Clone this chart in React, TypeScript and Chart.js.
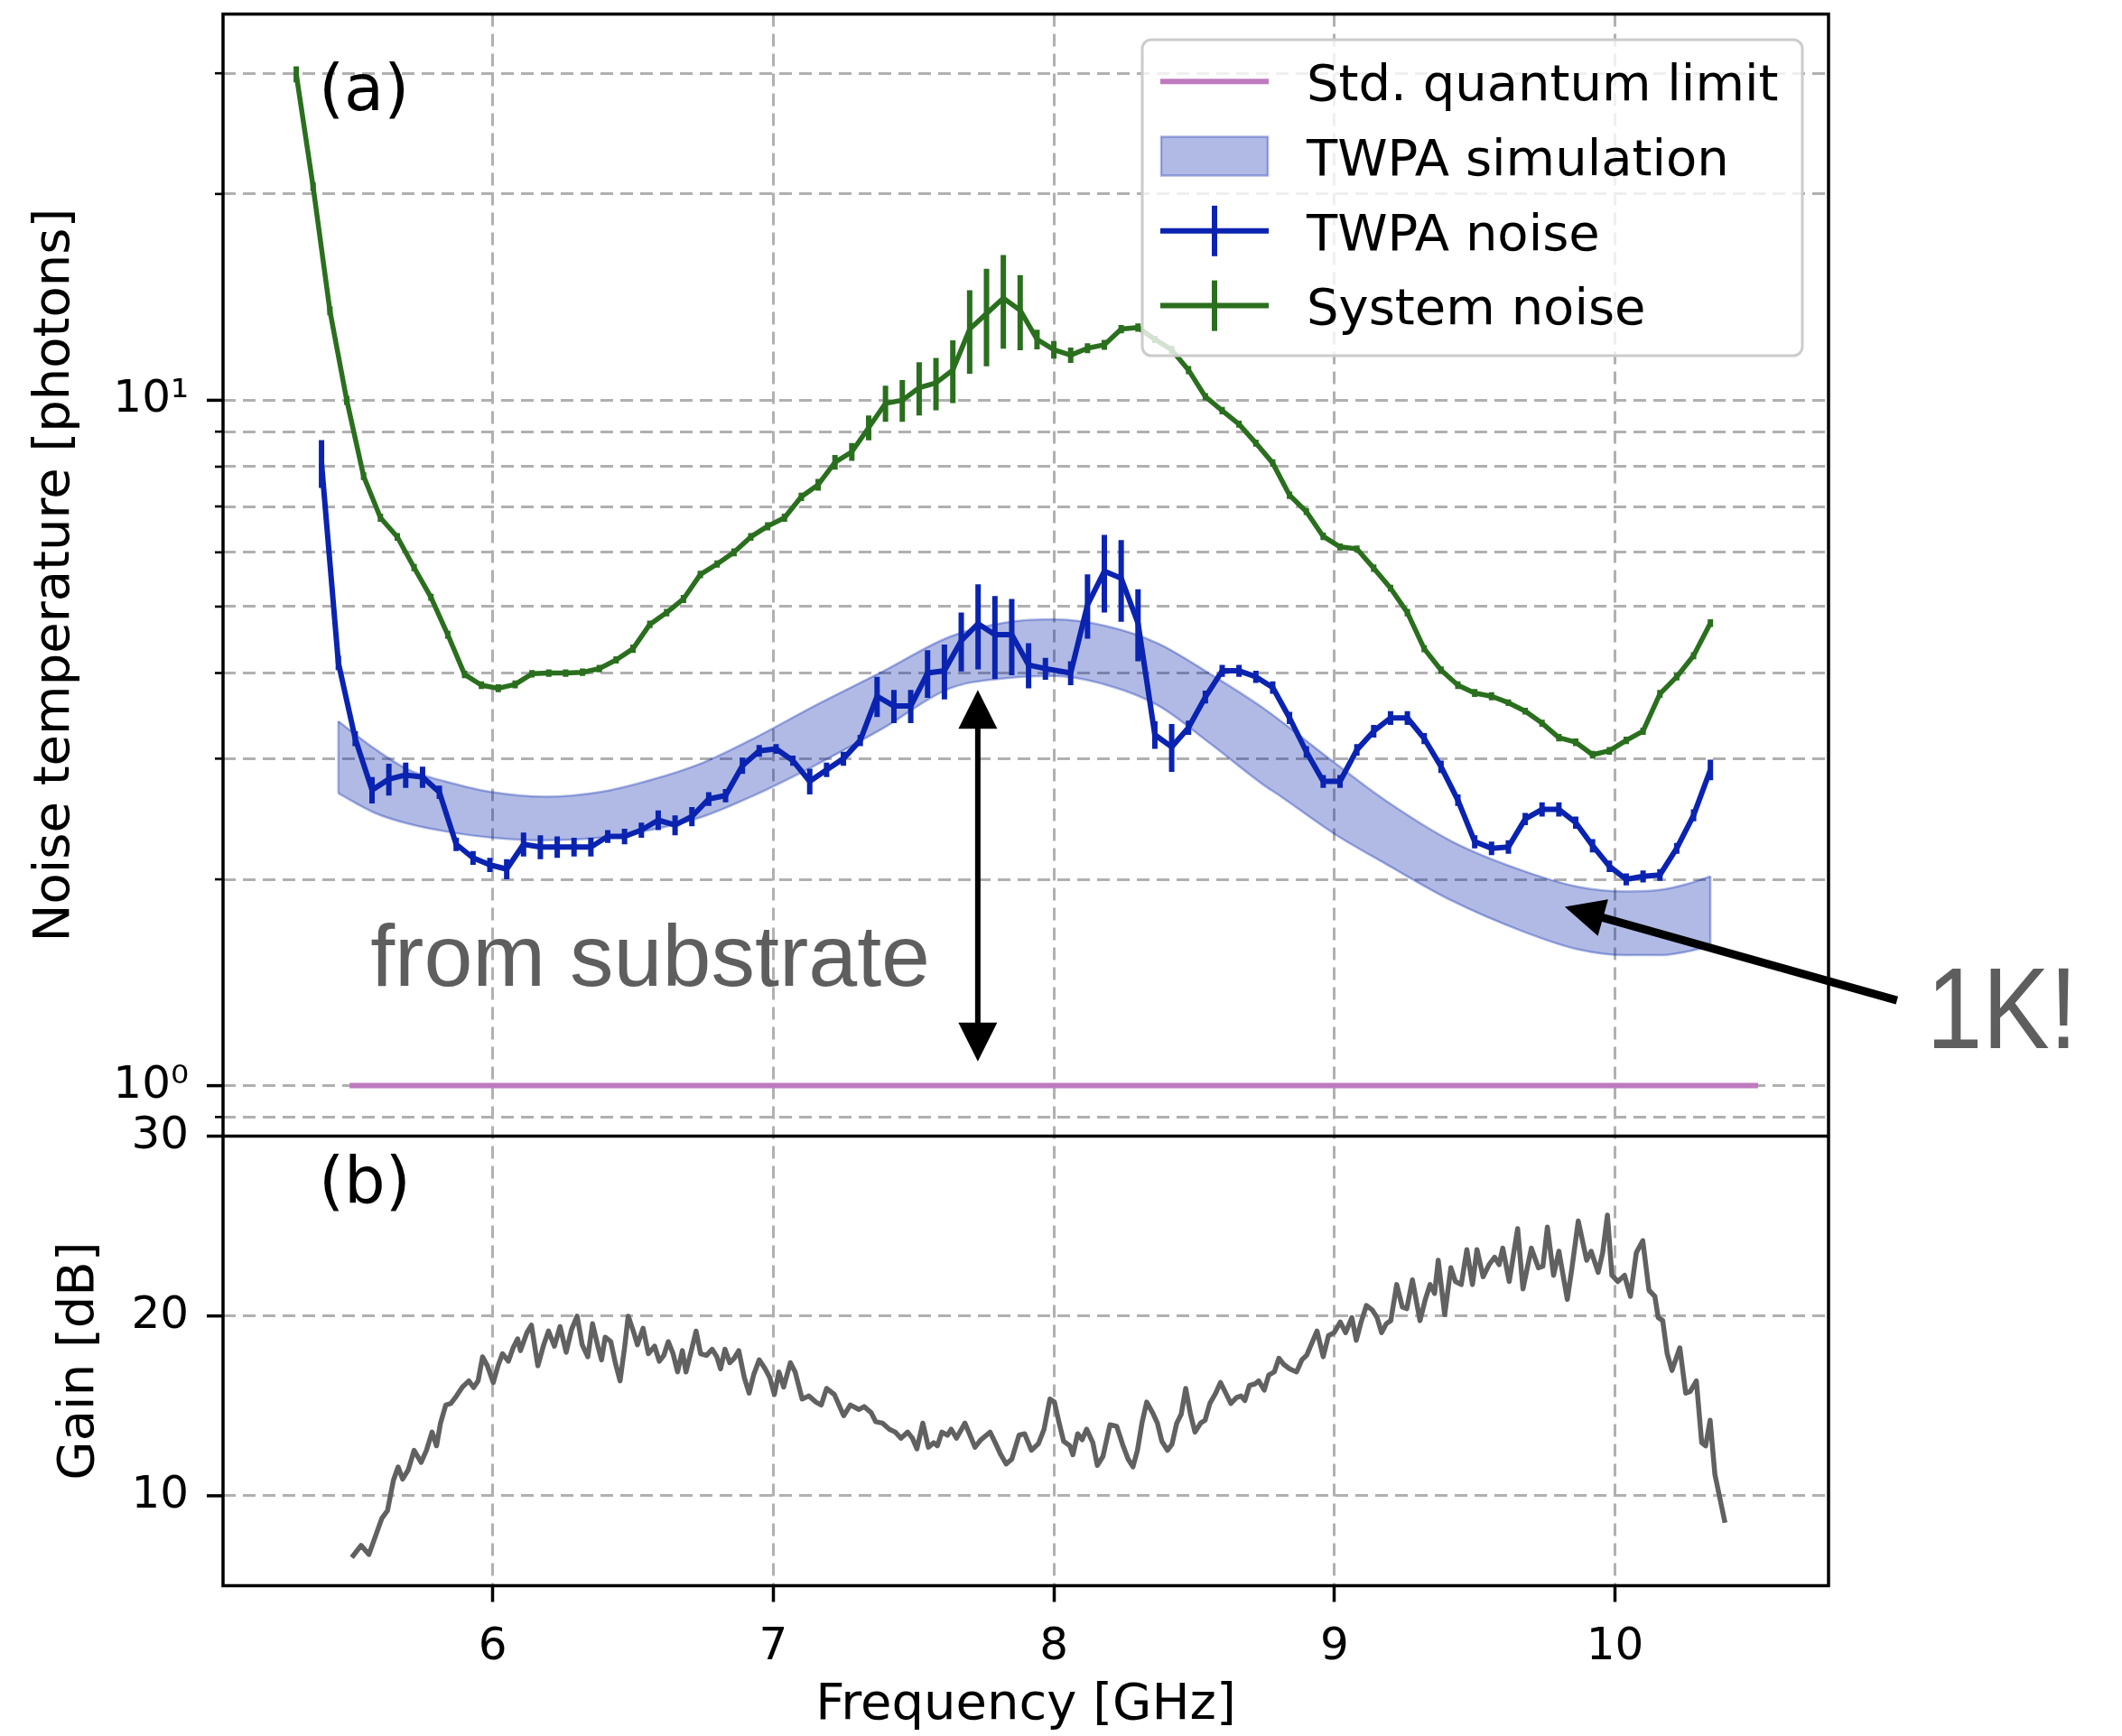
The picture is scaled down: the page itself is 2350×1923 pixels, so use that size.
import React, { useEffect, useRef } from "react";
import { Chart, registerables } from "chart.js";

Chart.register(...registerables);

// ---------------- data ----------------
const freqMin = 5.039;
const freqMax = 10.761;
const freqTicks = [6, 7, 8, 9, 10];

const noiseMin = 0.844;
const noiseMax = 36.6;
const noiseTicks = [0.9, 1, 2, 3, 4, 5, 6, 7, 8, 9, 10, 20, 30];
const noiseMajorTicks = [1, 10];
const noiseTickLabels: Record<string, string> = { "1": "10\u2070", "10": "10\u00b9" };

const gainMin = 5;
const gainMax = 30;
const gainTicks = [10, 20, 30];

const sqlFreq = [5.49, 10.51];
const sqlLevel = [1, 1];

const simFreq = [5.45, 5.58, 5.7, 5.83, 6.0, 6.19, 6.38, 6.56, 6.75, 6.93, 7.14, 7.39, 7.63, 7.83, 8.0, 8.19, 8.37, 8.56, 8.74, 8.81, 9.0, 9.18, 9.42, 9.67, 9.87, 10.04, 10.16, 10.26, 10.34];
const simUpper = [3.4, 3.1, 2.89, 2.78, 2.68, 2.64, 2.68, 2.79, 2.96, 3.21, 3.57, 4.02, 4.52, 4.74, 4.79, 4.68, 4.42, 3.98, 3.57, 3.4, 2.96, 2.61, 2.27, 2.06, 1.95, 1.92, 1.93, 1.97, 2.02];
const simLower = [2.67, 2.5, 2.41, 2.35, 2.3, 2.28, 2.3, 2.36, 2.47, 2.65, 2.92, 3.32, 3.8, 3.93, 3.96, 3.84, 3.59, 3.15, 2.76, 2.64, 2.33, 2.11, 1.86, 1.68, 1.58, 1.55, 1.55, 1.57, 1.6];

const twpaFreq = [5.39, 5.45, 5.51, 5.57, 5.63, 5.69, 5.75, 5.81, 5.87, 5.93, 5.99, 6.05, 6.11, 6.17, 6.23, 6.29, 6.35, 6.41, 6.47, 6.53, 6.59, 6.65, 6.71, 6.77, 6.83, 6.89, 6.95, 7.01, 7.07, 7.13, 7.19, 7.25, 7.31, 7.37, 7.43, 7.49, 7.55, 7.61, 7.67, 7.73, 7.79, 7.85, 7.91, 7.97, 8.06, 8.12, 8.18, 8.24, 8.3, 8.36, 8.42, 8.48, 8.54, 8.6, 8.66, 8.72, 8.78, 8.84, 8.9, 8.96, 9.02, 9.08, 9.14, 9.2, 9.26, 9.32, 9.38, 9.44, 9.5, 9.56, 9.62, 9.68, 9.74, 9.8, 9.86, 9.92, 9.98, 10.04, 10.1, 10.16, 10.22, 10.28, 10.34];
const twpaNoise = [8.1, 4.14, 3.21, 2.7, 2.8, 2.84, 2.82, 2.68, 2.25, 2.15, 2.1, 2.07, 2.25, 2.23, 2.23, 2.23, 2.23, 2.31, 2.31, 2.36, 2.44, 2.4, 2.47, 2.62, 2.65, 2.93, 3.08, 3.1, 2.98, 2.78, 2.89, 3.0, 3.19, 3.7, 3.58, 3.58, 4.0, 4.03, 4.46, 4.72, 4.55, 4.55, 4.11, 4.06, 4.0, 5.03, 5.63, 5.5, 4.73, 3.25, 3.12, 3.33, 3.69, 4.03, 4.03, 3.95, 3.81, 3.44, 3.07, 2.78, 2.78, 3.09, 3.29, 3.44, 3.44, 3.21, 2.92, 2.61, 2.27, 2.22, 2.23, 2.45, 2.53, 2.53, 2.42, 2.24, 2.09, 2.0, 2.02, 2.03, 2.22, 2.48, 2.89];
const twpaErr = [0.65, 0.1, 0.08, 0.12, 0.15, 0.12, 0.1, 0.06, 0.05, 0.05, 0.05, 0.07, 0.09, 0.09, 0.08, 0.07, 0.07, 0.05, 0.06, 0.06, 0.08, 0.08, 0.08, 0.06, 0.06, 0.08, 0.06, 0.05, 0.05, 0.12, 0.07, 0.07, 0.06, 0.25, 0.2, 0.2, 0.32, 0.37, 0.44, 0.67, 0.63, 0.58, 0.31, 0.15, 0.16, 0.54, 0.73, 0.75, 0.57, 0.15, 0.25, 0.08, 0.08, 0.08, 0.08, 0.08, 0.08, 0.07, 0.06, 0.06, 0.06, 0.06, 0.07, 0.08, 0.08, 0.06, 0.06, 0.05, 0.05, 0.05, 0.05, 0.05, 0.06, 0.06, 0.05, 0.05, 0.04, 0.04, 0.04, 0.04, 0.04, 0.05, 0.1];

const sysFreq = [5.3, 5.36, 5.42, 5.48, 5.54, 5.6, 5.66, 5.72, 5.78, 5.84, 5.9, 5.96, 6.02, 6.08, 6.14, 6.2, 6.26, 6.32, 6.38, 6.44, 6.5, 6.56, 6.62, 6.68, 6.74, 6.8, 6.86, 6.92, 6.98, 7.04, 7.1, 7.16, 7.22, 7.28, 7.34, 7.4, 7.46, 7.52, 7.58, 7.64, 7.7, 7.76, 7.82, 7.88, 7.94, 8.0, 8.06, 8.12, 8.18, 8.24, 8.3, 8.36, 8.42, 8.48, 8.54, 8.6, 8.66, 8.72, 8.78, 8.84, 8.9, 8.96, 9.02, 9.08, 9.14, 9.2, 9.26, 9.32, 9.38, 9.44, 9.5, 9.56, 9.62, 9.68, 9.74, 9.8, 9.86, 9.92, 9.98, 10.04, 10.1, 10.16, 10.22, 10.28, 10.34];
const sysNoise = [29.9, 20.5, 13.5, 10.0, 7.75, 6.74, 6.32, 5.7, 5.16, 4.55, 3.98, 3.84, 3.8, 3.85, 3.99, 4.0, 4.0, 4.01, 4.06, 4.18, 4.34, 4.71, 4.9, 5.13, 5.57, 5.77, 6.0, 6.32, 6.55, 6.74, 7.23, 7.53, 8.12, 8.41, 9.12, 9.9, 10.0, 10.43, 10.6, 11.07, 12.7, 13.38, 14.09, 13.53, 12.27, 11.85, 11.64, 11.91, 12.05, 12.7, 12.77, 12.27, 11.85, 11.07, 10.12, 9.66, 9.23, 8.66, 8.1, 7.27, 6.88, 6.33, 6.11, 6.07, 5.69, 5.32, 4.9, 4.34, 4.04, 3.84, 3.74, 3.7, 3.62, 3.52, 3.38, 3.22, 3.17, 3.04, 3.08, 3.19, 3.29, 3.73, 3.95, 4.24, 4.73];
const sysErr = [0.8, 0.3, 0.2, 0.15, 0.1, 0.09, 0.08, 0.07, 0.06, 0.06, 0.05, 0.05, 0.05, 0.05, 0.05, 0.05, 0.05, 0.05, 0.05, 0.05, 0.06, 0.06, 0.06, 0.07, 0.07, 0.07, 0.08, 0.08, 0.09, 0.09, 0.1, 0.15, 0.2, 0.25, 0.38, 0.6, 0.7, 0.93, 0.93, 1.16, 1.77, 2.17, 2.2, 1.7, 0.4, 0.35, 0.3, 0.2, 0.2, 0.18, 0.18, 0.15, 0.15, 0.15, 0.12, 0.12, 0.11, 0.1, 0.1, 0.09, 0.08, 0.08, 0.07, 0.07, 0.07, 0.06, 0.06, 0.05, 0.05, 0.05, 0.05, 0.05, 0.04, 0.04, 0.04, 0.04, 0.04, 0.04, 0.04, 0.04, 0.04, 0.05, 0.05, 0.05, 0.06];

const gainFreq = [5.498, 5.531, 5.559, 5.584, 5.605, 5.625, 5.646, 5.663, 5.679, 5.699, 5.72, 5.745, 5.764, 5.784, 5.8, 5.814, 5.833, 5.851, 5.871, 5.892, 5.915, 5.932, 5.948, 5.964, 5.981, 6.002, 6.019, 6.035, 6.056, 6.073, 6.089, 6.099, 6.122, 6.138, 6.161, 6.182, 6.199, 6.22, 6.24, 6.262, 6.281, 6.301, 6.319, 6.339, 6.356, 6.375, 6.388, 6.401, 6.421, 6.437, 6.454, 6.47, 6.483, 6.503, 6.516, 6.536, 6.555, 6.577, 6.594, 6.61, 6.626, 6.643, 6.659, 6.676, 6.689, 6.708, 6.725, 6.741, 6.762, 6.782, 6.799, 6.812, 6.828, 6.845, 6.861, 6.877, 6.897, 6.914, 6.93, 6.95, 6.971, 6.988, 7.004, 7.02, 7.037, 7.061, 7.078, 7.103, 7.127, 7.152, 7.171, 7.19, 7.218, 7.251, 7.275, 7.305, 7.324, 7.349, 7.365, 7.389, 7.414, 7.435, 7.455, 7.479, 7.496, 7.512, 7.533, 7.553, 7.572, 7.585, 7.601, 7.621, 7.634, 7.653, 7.683, 7.699, 7.719, 7.74, 7.773, 7.794, 7.811, 7.83, 7.85, 7.876, 7.896, 7.92, 7.945, 7.965, 7.986, 8.002, 8.019, 8.035, 8.057, 8.068, 8.085, 8.101, 8.117, 8.139, 8.155, 8.175, 8.2, 8.224, 8.245, 8.265, 8.282, 8.298, 8.314, 8.331, 8.352, 8.369, 8.385, 8.405, 8.421, 8.438, 8.454, 8.47, 8.487, 8.503, 8.523, 8.539, 8.556, 8.577, 8.594, 8.61, 8.631, 8.651, 8.667, 8.681, 8.697, 8.717, 8.73, 8.75, 8.766, 8.786, 8.802, 8.819, 8.84, 8.865, 8.884, 8.901, 8.917, 8.938, 8.96, 8.979, 8.999, 9.021, 9.04, 9.062, 9.078, 9.095, 9.114, 9.135, 9.152, 9.168, 9.185, 9.201, 9.222, 9.242, 9.258, 9.278, 9.305, 9.324, 9.341, 9.357, 9.37, 9.393, 9.415, 9.431, 9.452, 9.472, 9.492, 9.508, 9.53, 9.551, 9.571, 9.587, 9.6, 9.623, 9.653, 9.672, 9.702, 9.727, 9.743, 9.759, 9.781, 9.8, 9.83, 9.846, 9.869, 9.899, 9.915, 9.94, 9.956, 9.973, 9.989, 10.01, 10.034, 10.055, 10.076, 10.099, 10.121, 10.142, 10.154, 10.17, 10.186, 10.203, 10.231, 10.252, 10.268, 10.29, 10.309, 10.323, 10.339, 10.356, 10.392];
const gainDb = [6.57, 7.24, 6.74, 7.83, 8.75, 9.17, 10.85, 11.6, 10.93, 11.44, 12.53, 11.86, 12.53, 13.54, 12.78, 14.04, 15.05, 15.13, 15.55, 16.05, 16.39, 16.02, 16.39, 17.73, 17.23, 16.3, 17.23, 17.9, 17.48, 18.23, 18.73, 18.07, 19.07, 19.49, 17.23, 18.4, 19.16, 18.32, 19.41, 17.98, 19.24, 19.99, 18.4, 17.73, 19.57, 18.32, 17.56, 18.82, 18.57, 17.4, 16.39, 18.23, 19.99, 19.07, 18.4, 19.32, 17.9, 18.32, 17.48, 17.81, 18.57, 17.9, 16.89, 18.07, 16.89, 18.07, 19.16, 17.9, 17.81, 18.15, 17.73, 17.06, 18.15, 17.4, 17.65, 18.07, 16.56, 15.71, 16.72, 17.56, 17.06, 16.56, 15.63, 16.89, 16.05, 17.4, 16.89, 15.38, 15.55, 15.21, 15.05, 15.97, 15.63, 14.45, 15.05, 14.8, 14.96, 14.62, 14.12, 14.04, 13.7, 13.54, 13.2, 13.54, 13.2, 12.61, 14.04, 12.7, 12.95, 12.78, 13.54, 13.37, 13.7, 13.2, 14.04, 13.45, 12.7, 13.12, 13.54, 12.86, 12.28, 11.77, 12.03, 13.37, 13.45, 12.53, 12.9, 13.7, 15.38, 15.21, 14.04, 13.03, 12.78, 12.28, 13.45, 13.12, 13.7, 12.95, 11.69, 12.19, 13.95, 13.87, 12.86, 12.03, 11.61, 12.53, 14.04, 15.21, 14.62, 14.04, 13.03, 12.53, 12.86, 14.04, 14.54, 15.97, 14.54, 13.54, 14.04, 14.2, 15.13, 15.71, 16.3, 15.8, 15.13, 15.46, 15.55, 15.3, 16.14, 16.22, 16.39, 15.88, 16.72, 16.89, 17.65, 17.31, 17.06, 16.89, 17.56, 17.81, 18.4, 19.16, 17.73, 18.91, 19.07, 19.66, 19.07, 19.91, 18.65, 19.66, 20.58, 20.33, 19.91, 19.07, 19.57, 19.74, 21.75, 20.5, 20.41, 22.01, 19.74, 20.92, 21.75, 21.25, 23.1, 20.07, 22.68, 21.92, 21.75, 23.69, 21.75, 23.69, 22.18, 22.85, 23.27, 22.85, 23.77, 21.92, 24.86, 21.51, 23.77, 22.68, 22.76, 24.94, 22.26, 23.6, 20.92, 22.6, 25.28, 23.1, 23.6, 22.43, 23.52, 25.61, 22.26, 21.92, 22.26, 21.09, 23.52, 24.19, 21.43, 21.09, 19.91, 19.74, 17.9, 16.97, 18.23, 15.71, 15.8, 16.39, 12.95, 12.78, 14.2, 11.19, 8.5];

// ---------------- style / layout ----------------
const W = 2350;
const H = 1923;
const PAD_TOP = 15.6;
const PAD_RIGHT = 325;
const Y_AXIS_W = 247;
const X_AXIS_H = 166.5;
const NOISE_WEIGHT = 1243;
const GAIN_WEIGHT = 498;

const BLUE = "#0a23b0";
const GREEN = "#2a6f1e";
const SQL_COLOR = "#bf7abf";
const GAIN_COLOR = "#616161";
const BAND_FILL = "rgba(0,32,170,0.31)";
const BAND_EDGE = "rgba(0,32,170,0.33)";
const GRID = "#b0b0b0";
const ANNOT = "#5e5e5e";
const FONT = "'DejaVu Sans', sans-serif";
const ANNOT_FONT = "'Liberation Sans', Arial, sans-serif";

const pts = (xs: number[], ys: number[]) => xs.map((x, i) => ({ x, y: ys[i] }));

const errorBarPlugin = {
  id: "errorBars",
  afterDatasetDraw(chart: any, args: any) {
    const ds = chart.data.datasets[args.index];
    if (!ds.errors) return;
    const xs = chart.scales.x;
    const ys = chart.scales[ds.yAxisID];
    const a = chart.chartArea;
    const ctx = chart.ctx;
    ctx.save();
    ctx.beginPath();
    ctx.rect(a.left, a.top, a.right - a.left, a.bottom - a.top);
    ctx.clip();
    ctx.strokeStyle = ds.borderColor;
    ctx.lineWidth = ds.errorWidth;
    ctx.lineCap = "butt";
    ds.data.forEach((p: any, i: number) => {
      const e = ds.errors[i];
      const x = xs.getPixelForValue(p.x);
      ctx.beginPath();
      ctx.moveTo(x, ys.getPixelForValue(p.y - e));
      ctx.lineTo(x, ys.getPixelForValue(p.y + e));
      ctx.stroke();
    });
    ctx.restore();
  },
};

const framePlugin = {
  id: "frame",
  afterDatasetsDraw(chart: any) {
    const ctx = chart.ctx;
    const a = chart.chartArea;
    const yn = chart.scales.yNoise;
    const yg = chart.scales.yGain;
    ctx.save();
    ctx.strokeStyle = "#000";
    ctx.lineWidth = 3.5;
    ctx.strokeRect(a.left, a.top, a.right - a.left, a.bottom - a.top);
    ctx.beginPath();
    ctx.moveTo(a.left, yn.bottom);
    ctx.lineTo(a.right, yn.bottom);
    ctx.stroke();
    // y tick marks (major long, minor short)
    ctx.lineCap = "butt";
    noiseTicks.forEach((v) => {
      const major = noiseMajorTicks.includes(v);
      const y = yn.getPixelForValue(v);
      ctx.lineWidth = major ? 3.5 : 2.6;
      ctx.beginPath();
      ctx.moveTo(a.left - (major ? 18 : 9), y);
      ctx.lineTo(a.left, y);
      ctx.stroke();
    });
    gainTicks.forEach((v) => {
      const y = yg.getPixelForValue(v);
      ctx.lineWidth = 3.5;
      ctx.beginPath();
      ctx.moveTo(a.left - 18, y);
      ctx.lineTo(a.left, y);
      ctx.stroke();
    });
    ctx.restore();
  },
};

function arrowHead(ctx: any, tx: number, ty: number, fx: number, fy: number, len: number, width: number) {
  const ang = Math.atan2(ty - fy, tx - fx);
  const bx = tx - len * Math.cos(ang);
  const by = ty - len * Math.sin(ang);
  const px = (width / 2) * Math.sin(ang);
  const py = (width / 2) * Math.cos(ang);
  ctx.beginPath();
  ctx.moveTo(tx, ty);
  ctx.lineTo(bx + px, by - py);
  ctx.lineTo(bx - px, by + py);
  ctx.closePath();
  ctx.fill();
}

const legendPlugin = {
  id: "mplLegend",
  afterDraw(chart: any) {
    const ctx = chart.ctx;
    const a = chart.chartArea;
    const w = 731;
    const h = 350;
    const left = a.right - 29 - w;
    const top = a.top + 28.4;
    ctx.save();
    ctx.beginPath();
    (ctx as any).roundRect(left, top, w, h, 10);
    ctx.fillStyle = "rgba(255,255,255,0.8)";
    ctx.fill();
    ctx.strokeStyle = "#cccccc";
    ctx.lineWidth = 3;
    ctx.stroke();
    const entries = chart.data.datasets.filter((d: any) => d.legendKind);
    entries.sort((p: any, q: any) => p.legendRank - q.legendRank);
    entries.forEach((d: any, i: number) => {
      const cy = top + 46.2 + i * 82.8;
      const x0 = left + 20;
      const x1 = left + 140;
      if (d.legendKind === "line" || d.legendKind === "errorbar") {
        ctx.strokeStyle = d.borderColor;
        ctx.lineWidth = 6;
        ctx.beginPath();
        ctx.moveTo(x0, cy);
        ctx.lineTo(x1, cy);
        ctx.stroke();
        if (d.legendKind === "errorbar") {
          ctx.lineWidth = 6;
          ctx.beginPath();
          ctx.moveTo((x0 + x1) / 2, cy - 28);
          ctx.lineTo((x0 + x1) / 2, cy + 28);
          ctx.stroke();
        }
      } else if (d.legendKind === "patch") {
        ctx.fillStyle = d.backgroundColor;
        ctx.fillRect(x0 + 1, cy - 21.5, x1 - x0 - 2, 43);
        ctx.strokeStyle = d.borderColor;
        ctx.lineWidth = 2.5;
        ctx.strokeRect(x0 + 1, cy - 21.5, x1 - x0 - 2, 43);
      }
      ctx.fillStyle = "#000";
      ctx.font = `56px ${FONT}`;
      ctx.textBaseline = "alphabetic";
      ctx.textAlign = "left";
      ctx.fillText(d.label, left + 182, cy + 20.8);
    });
    ctx.restore();
  },
};

const annotationPlugin = {
  id: "annotations",
  afterDraw(chart: any) {
    const ctx = chart.ctx;
    const a = chart.chartArea;
    const xs = chart.scales.x;
    const yn = chart.scales.yNoise;
    ctx.save();
    // panel labels
    ctx.fillStyle = "#000";
    ctx.font = `72px ${FONT}`;
    ctx.textAlign = "left";
    ctx.textBaseline = "alphabetic";
    ctx.fillText("(a)", a.left + 106, a.top + 106);
    ctx.fillText("(b)", a.left + 106, yn.bottom + 73);

    // "from substrate" + double arrow
    ctx.fillStyle = ANNOT;
    ctx.font = `97px ${ANNOT_FONT}`;
    ctx.fillText("from substrate", xs.getPixelForValue(5.564), yn.getPixelForValue(1.398));
    const ax = xs.getPixelForValue(7.729);
    const yTop = yn.getPixelForValue(3.78);
    const yBot = yn.getPixelForValue(1.085);
    ctx.strokeStyle = "#000";
    ctx.fillStyle = "#000";
    ctx.lineWidth = 6;
    ctx.beginPath();
    ctx.moveTo(ax, yTop + 30);
    ctx.lineTo(ax, yBot - 30);
    ctx.stroke();
    arrowHead(ctx, ax, yTop, ax, yBot, 43, 43);
    arrowHead(ctx, ax, yBot, ax, yTop, 43, 43);

    // "1K!" + arrow
    const tx = xs.getPixelForValue(11.005);
    const ty = yn.getPixelForValue(1.332);
    const hx = xs.getPixelForValue(9.821);
    const hy = yn.getPixelForValue(1.823);
    const ang = Math.atan2(hy - ty, hx - tx);
    ctx.lineWidth = 9;
    ctx.beginPath();
    ctx.moveTo(tx, ty);
    ctx.lineTo(hx - 35 * Math.cos(ang), hy - 35 * Math.sin(ang));
    ctx.stroke();
    arrowHead(ctx, hx, hy, tx, ty, 44, 42);
    ctx.fillStyle = ANNOT;
    ctx.font = `128px ${ANNOT_FONT}`;
    const kx = xs.getPixelForValue(11.11);
    const ky = yn.getPixelForValue(1.134);
    ctx.translate(kx, ky);
    ctx.scale(0.87, 1);
    ctx.fillText("1K!", 0, 0);
    ctx.restore();
  },
};

export default function App() {
  const ref = useRef<HTMLCanvasElement>(null);
  useEffect(() => {
    const canvas = ref.current as HTMLCanvasElement;
    const tickFont = { family: FONT, size: 50, lineHeight: 1 };
    const titleFont = { family: FONT, size: 56, lineHeight: 1 };
    const chart = new Chart(canvas, {
      type: "line",
      data: {
        datasets: [
          {
            label: "System noise",
            data: pts(sysFreq, sysNoise),
            errors: sysErr,
            errorWidth: 6,
            yAxisID: "yNoise",
            borderColor: GREEN,
            borderWidth: 5.5,
            order: 1,
            legendKind: "errorbar",
            legendRank: 4,
          },
          {
            label: "TWPA noise",
            data: pts(twpaFreq, twpaNoise),
            errors: twpaErr,
            errorWidth: 6,
            yAxisID: "yNoise",
            borderColor: BLUE,
            borderWidth: 6,
            order: 2,
            legendKind: "errorbar",
            legendRank: 3,
          },
          {
            label: "Std. quantum limit",
            data: pts(sqlFreq, sqlLevel),
            yAxisID: "yNoise",
            borderColor: SQL_COLOR,
            borderWidth: 6,
            borderCapStyle: "butt",
            order: 5,
            legendKind: "line",
            legendRank: 1,
          },
          {
            label: "TWPA simulation",
            data: pts(simFreq, simUpper),
            yAxisID: "yNoise",
            borderColor: BAND_EDGE,
            backgroundColor: BAND_FILL,
            borderWidth: 2.5,
            fill: "+1",
            tension: 0.4,
            cubicInterpolationMode: "monotone",
            order: 7,
            legendKind: "patch",
            legendRank: 2,
          },
          {
            label: "TWPA simulation (lower)",
            data: pts(simFreq, simLower),
            yAxisID: "yNoise",
            borderColor: BAND_EDGE,
            borderWidth: 2.5,
            fill: false,
            tension: 0.4,
            cubicInterpolationMode: "monotone",
            order: 6,
          },
          {
            label: "band edge left",
            data: [
              { x: simFreq[0], y: simLower[0] },
              { x: simFreq[0], y: simUpper[0] },
            ],
            yAxisID: "yNoise",
            borderColor: BAND_EDGE,
            borderWidth: 2.5,
            order: 6,
          },
          {
            label: "band edge right",
            data: [
              { x: simFreq[simFreq.length - 1], y: simLower[simLower.length - 1] },
              { x: simFreq[simFreq.length - 1], y: simUpper[simUpper.length - 1] },
            ],
            yAxisID: "yNoise",
            borderColor: BAND_EDGE,
            borderWidth: 2.5,
            order: 6,
          },
          {
            label: "Gain",
            data: pts(gainFreq, gainDb),
            yAxisID: "yGain",
            borderColor: GAIN_COLOR,
            borderWidth: 5.5,
            order: 4,
          },
        ] as any,
      },
      options: {
        responsive: false,
        animation: false,
        devicePixelRatio: 1,
        events: [],
        layout: { padding: { left: 0, top: PAD_TOP, right: PAD_RIGHT, bottom: 0 }, autoPadding: false } as any,
        elements: {
          point: { radius: 0, hoverRadius: 0 },
          line: { tension: 0, borderJoinStyle: "round", borderCapStyle: "butt", fill: false },
        },
        plugins: { legend: { display: false }, tooltip: { enabled: false } },
        scales: {
          x: {
            type: "linear",
            position: "bottom",
            min: freqMin,
            max: freqMax,
            bounds: "data",
            afterBuildTicks: (s: any) => {
              s.ticks = freqTicks.map((v) => ({ value: v }));
            },
            afterFit: (s: any) => {
              s.height = X_AXIS_H;
              s.paddingLeft = 0;
              s.paddingRight = 0;
            },
            grid: { color: GRID, lineWidth: 3, drawTicks: true, tickLength: 18, tickColor: "#000", tickWidth: 3.5 },
            border: { display: false, dash: [14, 8] },
            ticks: {
              autoSkip: false,
              maxRotation: 0,
              padding: 26,
              color: "#000",
              font: tickFont,
              callback: (v: any) => String(v),
            },
            title: { display: true, text: "Frequency [GHz]", color: "#000", font: titleFont, padding: { top: 0, bottom: 6 } },
          },
          yGain: {
            type: "linear",
            position: "left",
            stack: "panels",
            stackWeight: GAIN_WEIGHT,
            weight: 0,
            min: gainMin,
            max: gainMax,
            bounds: "data",
            afterBuildTicks: (s: any) => {
              s.ticks = gainTicks.map((v) => ({ value: v }));
            },
            afterFit: (s: any) => {
              s.width = Y_AXIS_W;
              s.paddingTop = 0;
              s.paddingBottom = 0;
            },
            grid: { color: GRID, lineWidth: 3, drawTicks: false },
            border: { display: false, dash: [14, 8] },
            ticks: { autoSkip: false, padding: 38, color: "#000", font: tickFont, callback: (v: any) => String(v) },
            title: { display: true, text: "Gain [dB]", color: "#000", font: titleFont, padding: { top: 60, bottom: 0 } },
          },
          yNoise: {
            type: "logarithmic",
            position: "left",
            stack: "panels",
            stackWeight: NOISE_WEIGHT,
            weight: 1,
            min: noiseMin,
            max: noiseMax,
            bounds: "data",
            afterBuildTicks: (s: any) => {
              s.ticks = noiseTicks.map((v) => ({ value: v }));
            },
            afterFit: (s: any) => {
              s.width = Y_AXIS_W;
              s.paddingTop = 0;
              s.paddingBottom = 0;
            },
            grid: { color: GRID, lineWidth: 3, drawTicks: false },
            border: { display: false, dash: [14, 8] },
            ticks: {
              autoSkip: false,
              padding: 38,
              color: "#000",
              font: tickFont,
              callback: (v: any) => noiseTickLabels[String(v)] ?? "",
            },
            title: { display: true, text: "Noise temperature [photons]", color: "#000", font: titleFont, padding: { top: 33, bottom: 0 } },
          },
        } as any,
      },
      plugins: [errorBarPlugin, framePlugin, legendPlugin, annotationPlugin],
    } as any);
    return () => chart.destroy();
  }, []);
  return (
    <div style={{ position: "absolute", left: 0, top: 0, width: W, height: H, background: "#fff" }}>
      <canvas ref={ref} width={W} height={H} style={{ display: "block", width: W, height: H }} />
    </div>
  );
}
